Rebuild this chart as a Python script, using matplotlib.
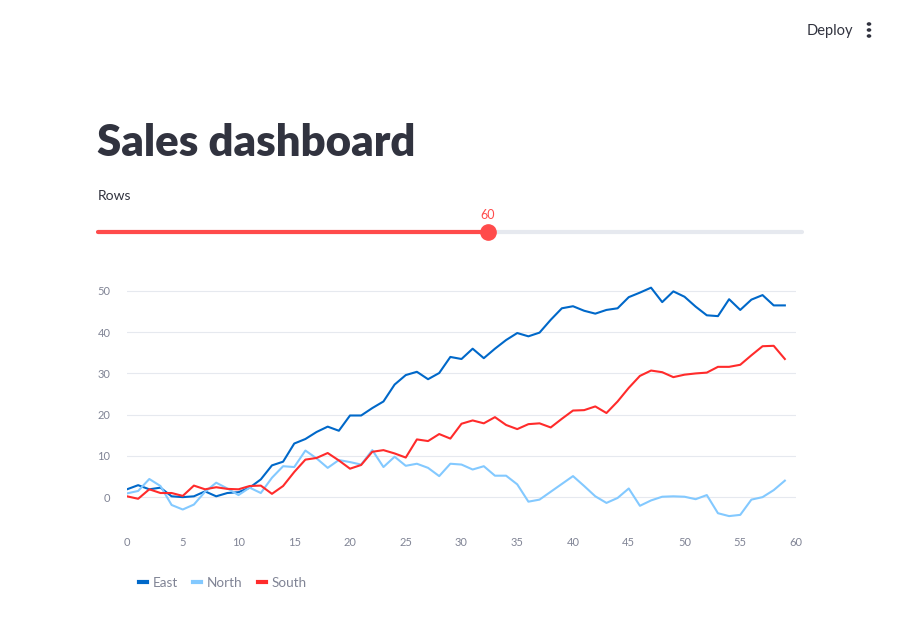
import matplotlib
matplotlib.use("Agg")
from matplotlib import pyplot as plt
from matplotlib.lines import Line2D
from matplotlib.patches import Circle

# data (60 rows)
rows = list(range(60))
east = [1.9, 2.9, 1.9, 2.3, 0.2, 0.0, 0.2, 1.4, 0.2, 1.0,
        1.2, 2.3, 4.3, 7.7, 8.6, 13.0, 14.1, 15.8, 17.1, 16.1,
        19.8, 19.8, 21.6, 23.2, 27.3, 29.6, 30.4, 28.6, 30.1, 34.0,
        33.5, 36.0, 33.7, 36.0, 38.1, 39.8, 39.0, 39.9, 43.0, 45.8,
        46.3, 45.2, 44.5, 45.4, 45.8, 48.5, 49.6, 50.8, 47.3, 49.9,
        48.6, 46.2, 44.1, 43.9, 48.0, 45.4, 47.9, 49.0, 46.5, 46.5]
north = [0.9, 1.5, 4.4, 2.7, -1.9, -3.0, -1.8, 1.3, 3.5, 2.1,
         0.5, 2.3, 1.0, 4.7, 7.5, 7.3, 11.3, 9.4, 7.1, 9.0,
         8.5, 7.9, 11.4, 7.3, 9.8, 7.6, 8.1, 7.1, 5.1, 8.1,
         7.9, 6.7, 7.5, 5.2, 5.2, 3.1, -1.1, -0.6, 1.3, 3.2,
         5.1, 2.7, 0.2, -1.4, -0.2, 2.1, -2.1, -0.8, 0.1, 0.2,
         0.1, -0.5, 0.5, -3.9, -4.6, -4.3, -0.6, 0.0, 1.7, 4.0]
south = [0.2, -0.4, 1.9, 1.0, 1.0, 0.3, 2.8, 1.9, 2.4, 2.0,
         1.9, 2.7, 2.8, 0.8, 2.7, 6.1, 9.1, 9.5, 10.7, 8.9,
         6.9, 7.8, 11.0, 11.4, 10.6, 9.6, 14.0, 13.6, 15.3, 14.2,
         17.8, 18.6, 17.9, 19.4, 17.5, 16.5, 17.7, 17.9, 16.9, 19.0,
         21.0, 21.1, 22.0, 20.4, 23.2, 26.5, 29.4, 30.7, 30.3, 29.1,
         29.7, 30.0, 30.2, 31.6, 31.6, 32.1, 34.4, 36.6, 36.7, 33.5]
series = ["East", "North", "South"]
colors = ["#0068c9", "#83c9ff", "#ff2b2b"]
slider_value = 60

W, H = 900, 620
plt.rcParams['font.family'] = ['Lato', 'DejaVu Sans']

fig = plt.figure(figsize=(W / 100, H / 100), dpi=100)


def fx(x):
    return x / W


def fy(y):
    return 1 - y / H


# header
fig.text(fx(807), fy(31), "Deploy", fontsize=10.5, color="#31333f", va="center")
for dy in (24, 30, 36):
    fig.add_artist(Circle((fx(869), fy(dy)), 1.6 / W, color="#31333f",
                          transform=fig.transFigure))

fig.text(fx(97), fy(143), "Sales dashboard", fontsize=31.5, fontweight="heavy",
         color="#31333f", va="center")
fig.text(fx(98), fy(196), "Rows", fontsize=10, color="#31333f", va="center")

# slider
fig.add_artist(Line2D([fx(98), fx(802)], [fy(232), fy(232)], lw=3,
                      color="#e6e9ef", solid_capstyle="round"))
fig.add_artist(Line2D([fx(98), fx(488)], [fy(232), fy(232)], lw=3,
                      color="#ff4b4b", solid_capstyle="round"))
fig.add_artist(Line2D([fx(488)], [fy(232)], marker="o", ms=11,
                      color="#ff4b4b", lw=0))
fig.text(fx(488), fy(215), str(slider_value), fontsize=9, color="#ff4b4b",
         ha="center", va="center")

# chart
ax = fig.add_axes([fx(127), fy(526), fx(796) - fx(127), fy(278.6) - fy(526)])
for name, vals, c in zip(series, [east, north, south], colors):
    ax.plot(rows, vals, color=c, lw=1.5, label=name)

ax.set_xlim(0, 60)
ax.set_ylim(-7, 53)
ax.set_xticks(range(0, 61, 5))
ax.set_yticks(range(0, 51, 10))
ax.grid(axis="y", color="#e6e9ef", lw=0.8)
ax.set_axisbelow(True)
for s in ax.spines.values():
    s.set_visible(False)
ax.tick_params(length=0, labelsize=8, labelcolor="#808495")
ax.tick_params(axis="y", pad=12)
ax.tick_params(axis="x", pad=8)

handles = [Line2D([], [], color=c, lw=3) for c in colors]
fig.legend(handles, series, loc="center left", bbox_to_anchor=(fx(127), fy(583)),
           ncol=3, frameon=False, fontsize=9.7, labelcolor="#808495",
           handlelength=0.6, handletextpad=0.4, columnspacing=1.15)

fig.savefig("out.png", dpi=100)
